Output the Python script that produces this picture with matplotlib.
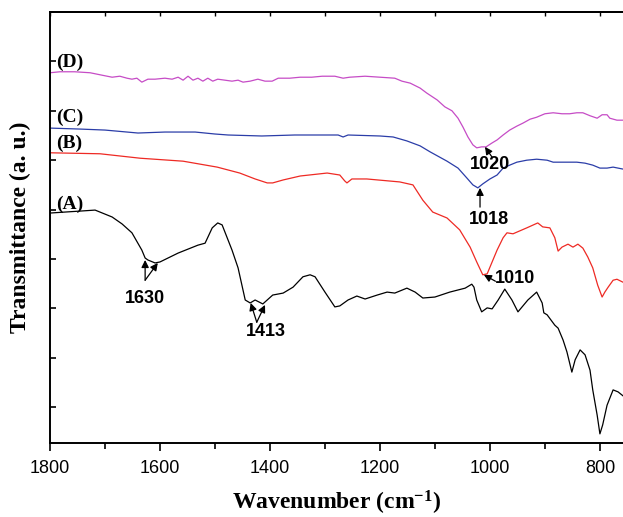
import numpy as np
import matplotlib
matplotlib.use('Agg')
import matplotlib.pyplot as plt
from matplotlib.ticker import MultipleLocator

plt.rcParams['mathtext.fontset'] = 'custom'
plt.rcParams['mathtext.rm'] = 'Liberation Serif:bold'
plt.rcParams['mathtext.bf'] = 'Liberation Serif:bold'
plt.rcParams['mathtext.it'] = 'Liberation Serif:bold'

#%% spectra (wavenumber / cm-1, transmittance a.u.)
wn_A = [1800, 1773, 1745, 1718, 1687, 1669, 1651, 1633, 1627, 1622, 1609, 1600, 1567, 1531, 1518,
        1505, 1495, 1487, 1469, 1458, 1445, 1436, 1427, 1413, 1395, 1376, 1358, 1340, 1327, 1318,
        1300, 1282, 1273, 1258, 1242, 1227, 1205, 1187, 1173, 1151, 1136, 1122, 1100, 1073, 1045,
        1033, 1029, 1024, 1015, 1005, 996, 985, 973, 960, 949, 931, 915, 905, 902, 896, 882, 876,
        867, 860, 851, 845, 836, 827, 818, 813, 805, 800, 795, 787, 776, 767, 758]
tr_A = [4.93, 4.95, 4.97, 4.99, 4.85, 4.71, 4.53, 4.18, 4.02, 3.98, 3.92, 3.94, 4.12, 4.28, 4.32,
        4.63, 4.73, 4.69, 4.18, 3.82, 3.17, 3.11, 3.17, 3.09, 3.27, 3.31, 3.43, 3.64, 3.68, 3.64,
        3.33, 3.03, 3.05, 3.17, 3.25, 3.19, 3.27, 3.33, 3.31, 3.41, 3.33, 3.21, 3.23, 3.33, 3.41,
        3.49, 3.43, 3.17, 2.93, 3.01, 2.99, 3.17, 3.39, 3.17, 2.93, 3.17, 3.33, 3.11, 2.91, 2.87,
        2.66, 2.60, 2.36, 2.12, 1.71, 1.96, 2.16, 2.06, 1.75, 1.35, 0.84, 0.46, 0.64, 1.04, 1.35,
        1.31, 1.23]

wn_B = [1800, 1709, 1636, 1558, 1496, 1455, 1427, 1405, 1395, 1376, 1345, 1296, 1273, 1264, 1260,
        1251, 1224, 1164, 1140, 1122, 1104, 1078, 1055, 1036, 1024, 1013, 1005, 996, 987, 976, 969,
        958, 933, 913, 904, 891, 882, 876, 869, 858, 849, 840, 831, 822, 813, 804, 796, 791, 785,
        776, 769, 758]
tr_B = [6.15, 6.13, 6.04, 5.98, 5.86, 5.74, 5.62, 5.54, 5.54, 5.60, 5.68, 5.74, 5.70, 5.58, 5.54,
        5.62, 5.62, 5.56, 5.50, 5.19, 4.95, 4.83, 4.59, 4.24, 3.94, 3.68, 3.70, 3.94, 4.18, 4.43,
        4.53, 4.51, 4.63, 4.73, 4.65, 4.63, 4.43, 4.16, 4.24, 4.30, 4.24, 4.30, 4.22, 4.04, 3.82,
        3.47, 3.23, 3.33, 3.43, 3.57, 3.59, 3.53]

wn_C = [1800, 1745, 1700, 1640, 1591, 1536, 1500, 1476, 1415, 1355, 1276, 1267, 1258, 1200, 1176,
        1151, 1127, 1109, 1078, 1058, 1042, 1031, 1022, 1013, 1000, 987, 976, 964, 951, 933, 915,
        896, 885, 873, 842, 827, 813, 800, 787, 776, 758]
tr_C = [6.65, 6.63, 6.61, 6.55, 6.57, 6.57, 6.53, 6.51, 6.49, 6.51, 6.51, 6.47, 6.51, 6.49, 6.47,
        6.39, 6.29, 6.17, 5.98, 5.84, 5.64, 5.50, 5.44, 5.52, 5.62, 5.70, 5.84, 5.90, 5.96, 6.00,
        6.02, 6.00, 5.96, 5.96, 5.96, 5.94, 5.90, 5.84, 5.84, 5.86, 5.82]

wn_D = [1800, 1782, 1755, 1727, 1705, 1687, 1673, 1660, 1651, 1642, 1633, 1622, 1609, 1591, 1578,
        1567, 1558, 1549, 1540, 1531, 1522, 1513, 1504, 1495, 1482, 1469, 1458, 1449, 1436, 1422,
        1409, 1396, 1385, 1364, 1345, 1324, 1305, 1282, 1267, 1255, 1227, 1200, 1173, 1160, 1145,
        1127, 1115, 1096, 1082, 1069, 1058, 1049, 1040, 1031, 1024, 1015, 1007, 996, 987, 976, 964,
        951, 940, 927, 915, 900, 885, 869, 855, 842, 831, 818, 805, 796, 787, 782, 769, 758]
tr_D = [7.77, 7.79, 7.79, 7.77, 7.72, 7.68, 7.70, 7.66, 7.64, 7.66, 7.58, 7.64, 7.64, 7.66, 7.64,
        7.68, 7.62, 7.70, 7.62, 7.66, 7.60, 7.66, 7.60, 7.64, 7.62, 7.60, 7.62, 7.58, 7.60, 7.64,
        7.60, 7.60, 7.66, 7.66, 7.68, 7.68, 7.70, 7.70, 7.66, 7.68, 7.70, 7.68, 7.66, 7.60, 7.56,
        7.46, 7.36, 7.22, 7.08, 7.00, 6.85, 6.67, 6.47, 6.31, 6.25, 6.27, 6.27, 6.35, 6.41, 6.51,
        6.61, 6.69, 6.75, 6.83, 6.87, 6.94, 6.96, 6.94, 6.94, 6.96, 6.96, 6.90, 6.85, 6.92, 6.92,
        6.85, 6.81, 6.81]

labels = ['(A)', '(B)', '(C)', '(D)']
label_y = [5.11, 6.35, 6.87, 7.99]
colors = ['black', '#ee2a24', '#2b3da8', '#c64cc6']

#%% plot
fig = plt.figure(figsize=(6.23, 5.17), dpi=100)
ax = fig.add_axes([50/623, 74/517, 573/623, 431/517])

for wn, tr, c in zip([wn_A, wn_B, wn_C, wn_D], [tr_A, tr_B, tr_C, tr_D], colors):
    ax.plot(wn, tr, '-', color=c, lw=0.9)

for lab, ly in zip(labels, label_y):
    ax.text(1788, ly, lab, fontfamily='Liberation Serif', fontweight='bold',
            fontsize=14, ha='left', va='center')

# peak annotations
numfont = dict(fontfamily='Liberation Sans', fontweight='bold', fontsize=13,
               ha='center', va='center')
arrow = dict(arrowstyle='-|>', color='k', lw=0.9, mutation_scale=11,
             shrinkA=0, shrinkB=0)

ax.text(1627, 3.21, '1630', **numfont)
ax.annotate('', xy=(1627, 3.98), xytext=(1627, 3.57), arrowprops=arrow)
ax.annotate('', xy=(1604, 3.92), xytext=(1627, 3.57), arrowprops=arrow)

ax.text(1407, 2.54, '1413', **numfont)
ax.annotate('', xy=(1435, 3.11), xytext=(1424, 2.72), arrowprops=arrow)
ax.annotate('', xy=(1409, 3.07), xytext=(1424, 2.72), arrowprops=arrow)

ax.text(955, 3.60, '1010', **numfont)
ax.annotate('', xy=(1011, 3.68), xytext=(990, 3.55), arrowprops=arrow)

ax.text(1002, 4.79, '1018', **numfont)
ax.annotate('', xy=(1018, 5.44), xytext=(1018, 5.05), arrowprops=arrow)

ax.text(1000, 5.92, '1020', **numfont)
ax.annotate('', xy=(1009, 6.27), xytext=(996, 6.06), arrowprops=arrow)

ax.set_xlim(1800, 758)
ax.set_ylim(0.275, 9.0)

ax.xaxis.set_major_locator(MultipleLocator(200))
ax.xaxis.set_minor_locator(MultipleLocator(100))
ax.tick_params(axis='x', which='major', direction='out', length=6, width=1.2,
               labelsize=13, pad=6)
ax.tick_params(axis='x', which='minor', direction='out', length=4, width=1.2)
for lab in ax.get_xticklabels():
    lab.set_fontfamily('Liberation Sans')

ax.set_yticks(np.arange(1, 9))
ax.tick_params(axis='y', direction='in', length=4, width=1.2, labelleft=False)

top = ax.secondary_xaxis('top')
top.xaxis.set_major_locator(MultipleLocator(100))
top.tick_params(direction='in', length=3, width=1, labeltop=False)

for s in ['left', 'bottom', 'top']:
    ax.spines[s].set_linewidth(1.4)
top.spines['top'].set_linewidth(1.4)
ax.spines['right'].set_visible(False)

ax.set_xlabel('Wavenumber (cm$^{-1}$)', fontfamily='Liberation Serif',
              fontweight='bold', fontsize=17, labelpad=9)
ax.set_ylabel('Transmittance (a. u.)', fontfamily='Liberation Serif',
              fontweight='bold', fontsize=17, labelpad=14)

fig.savefig('out.png', dpi=100)
